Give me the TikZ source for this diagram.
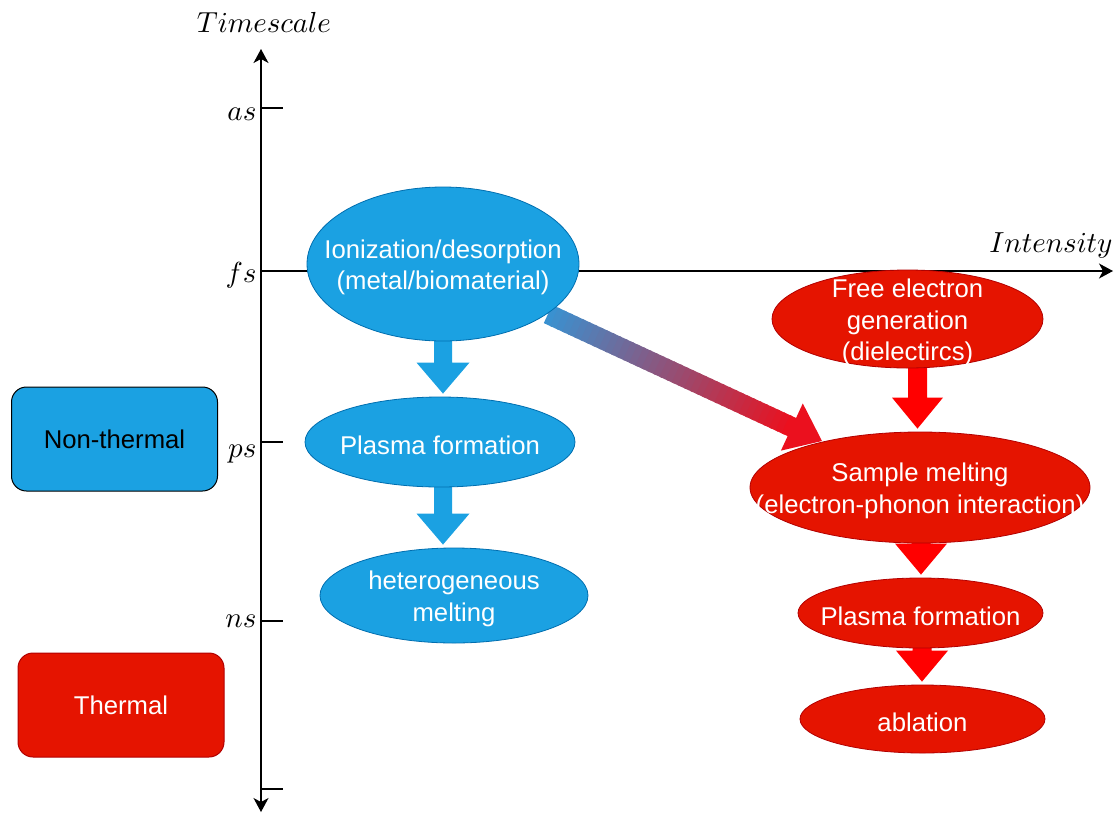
\documentclass[tikz,border=0pt]{standalone}
\usepackage{fontspec}
\newfontfamily\arialf{Liberation Sans}
\usetikzlibrary{shapes.geometric,calc,backgrounds,arrows.meta}
\definecolor{bfill}{HTML}{1BA1E2}
\definecolor{bline}{HTML}{006EAF}
\definecolor{rfill}{HTML}{E51400}
\definecolor{rline}{HTML}{B20000}
\definecolor{rarrow}{HTML}{FF0000}
\definecolor{gstart}{RGB}{58,145,208}
\definecolor{gend}{RGB}{235,16,30}
% block arrow: color, x, from node, to node, shaft half, head half
\newcommand\blockarr[6]{%
  \fill[#1] let \p1=(#3.south), \p2=(#4.north) in
    (#2pt-#5pt,\y1+6pt) -- (#2pt+#5pt,\y1+6pt) -- (#2pt+#5pt,\y2+34pt) --
    (#2pt+#6pt,\y2+34pt) -- (#2pt,\y2+3pt) -- (#2pt-#6pt,\y2+34pt) --
    (#2pt-#5pt,\y2+34pt) -- cycle;}
\begin{document}
\begin{tikzpicture}[x=1pt,y=-1pt,
  ell/.style={ellipse, inner sep=0pt, line width=0.8pt},
  bell/.style={ell, fill=bfill, draw=bline},
  rell/.style={ell, fill=rfill, draw=rline},
  txt/.style={font=\arialf\fontsize{25.7}{31.5}\selectfont, align=center, inner sep=0pt, text=white, yshift=-3.5pt},
  lab/.style={scale=2.9, inner sep=0pt},
  axisline/.style={line width=1.3pt, {Stealth[length=14pt,width=15pt,inset=4pt]}-{Stealth[length=14pt,width=15pt,inset=4pt]}},
  harrow/.style={line width=1.3pt, -{Stealth[length=14pt,width=15pt,inset=4pt]}},
  tick/.style={line width=1.3pt},
  catbox/.style={rounded corners=15pt, line width=1pt, minimum width=206pt, minimum height=104pt, inner sep=0pt, font=\arialf\fontsize{25.7}{31.5}\selectfont}
]
\useasboundingbox (0,0) rectangle (1120,812);

% axes
\coordinate (vtop) at (261,49);
\coordinate (vbot) at (261,812);
\coordinate (hl) at (261,271);
\coordinate (hr) at (1113,271);
\draw[axisline] (vbot) -- (vtop);
\draw[harrow] (hl) -- (hr);
\foreach \n/\y in {tas/108, tfs/271, tps/442, tns/621, tbot/789}{
  \coordinate (\n a) at (261,\y);
  \coordinate (\n b) at (283,\y);
  \draw[tick] (\n a) -- (\n b);
}
\node[lab, anchor=base east] (las) at (257,120) {$as$};
\node[lab, anchor=base east] (lfs) at (257,282) {$fs$};
\node[lab, anchor=base east] (lps) at (257,457) {$ps$};
\node[lab, anchor=base east] (lns) at (257,627) {$ns$};
\node[lab, anchor=base] (ltime) at (264,32) {$Timescale$};
\node[lab, anchor=base] (lint) at (1051,252) {$Intensity$};

% category boxes
\node[catbox, fill=bfill, draw=black, text=black] (nonth) at (114.5,439) {\raisebox{-2pt}{Non-thermal}};
\node[catbox, fill=rfill, draw=rline, text=white] (therm) at (121,705) {\raisebox{-2pt}{Thermal}};

% ellipses
\node[bell, minimum width=272pt, minimum height=154pt] (b1) at (443,264) {};
\node[txt] (b1t) at (b1) {Ionization/desorption\\(metal/biomaterial)};
\node[bell, minimum width=270pt, minimum height=90pt] (b2) at (440,442) {};
\node[txt] (b2t) at (b2) {Plasma formation};
\node[bell, minimum width=268pt, minimum height=95pt] (b3) at (454,595.5) {};
\node[txt] (b3t) at (b3) {heterogeneous\\melting};

\node[rell, minimum width=271pt, minimum height=98pt] (r1) at (907.5,319) {};
\node[txt] (r1t) at (r1) {Free electron\\generation\\(dielectircs)};
\node[rell, minimum width=340pt, minimum height=111pt] (r2) at (920,487.5) {};
\node[txt] (r2t) at (r2) {Sample melting\\(electron-phonon interaction)};
\node[rell, minimum width=245pt, minimum height=70pt] (r3) at (920.5,613) {};
\node[txt] (r3t) at (r3) {Plasma formation};
\node[rell, minimum width=245pt, minimum height=68pt] (r4) at (922.5,719) {};
\node[txt] (r4t) at (r4) {ablation};

\begin{scope}[on background layer]
  \blockarr{bfill}{443}{b1}{b2}{9}{26.5}
  \blockarr{bfill}{443}{b2}{b3}{9}{26.5}
  \blockarr{rarrow}{917.5}{r1}{r2}{9.5}{25.5}
  \blockarr{rarrow}{921}{r2}{r3}{9.5}{26}
  \blockarr{rarrow}{922}{r3}{r4}{9.5}{26}
  % gradient arrow
  \coordinate (gs) at (548,314);
  \coordinate (gt) at (822,441);
  \coordinate (hb) at ($(gs)!0.89!(gt)$);
  \foreach \i [evaluate=\i as \ta using \i*0.89/40,
               evaluate=\i as \tb using (\i+1.4)*0.89/40,
               evaluate=\i as \p using \i*100/39] in {0,...,39}{
    \draw[line width=20pt, color=gend!\p!gstart] ($(gs)!\ta!(gt)$) -- ($(gs)!\tb!(gt)$);
  }
  \fill[gend] (gt) -- ($(hb)!26pt!90:(gt)$) -- ($(hb)!26pt!-90:(gt)$) -- cycle;
\end{scope}
\end{tikzpicture}
\end{document}
